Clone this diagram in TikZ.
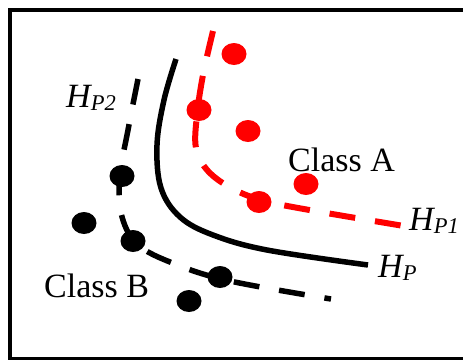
\documentclass[tikz,border=0pt]{standalone}
\usepackage{fontspec}
\setmainfont{Liberation Serif}
\usetikzlibrary{shapes.geometric}
\definecolor{pred}{RGB}{255,0,0}
\begin{document}
\begin{tikzpicture}[x=1pt,y=-1pt,
  dot/.style={ellipse,fill,inner sep=0pt,minimum width=25pt,minimum height=22pt},
  adot/.style={dot,fill=pred},
  bdot/.style={dot,fill=black},
  curve/.style={line width=5.5pt},
  dcurve/.style={curve,dash pattern=on 26pt off 20pt},
  lbl/.style={anchor=base west,inner sep=0pt,font=\fontsize{34}{40}\selectfont}]
\useasboundingbox (0,0) rectangle (463,360);
\draw[line width=3.2pt] (10,10) rectangle (490,358.5);
% H_P (solid)
\draw[curve] plot[smooth,tension=0.6] coordinates {(176,59) (164,100) (157,145) (161,188) (180,217) (213,235) (267,250) (368,265)};
% H_P1 (red dashed)
\draw[dcurve,pred,line width=6pt] plot[smooth,tension=0.6] coordinates {(213,31) (203,75) (197,115) (196,148) (208,171) (233,189) (265,201) (315,211) (410,227)};
% H_P2 (black dashed)
\draw[dcurve] plot[smooth,tension=0.6] coordinates {(138,79) (128,130) (120,175) (121,213) (137,244) (175,264) (230,281) (331,299)};
% class A points
\node[adot] (a1) at (234,54) {};
\node[adot] (a2) at (199,110) {};
\node[adot] (a3) at (248,131) {};
\node[adot] (a4) at (306,184) {};
\node[adot] (a5) at (259,202) {};
% class B points
\node[bdot] (b1) at (122,176) {};
\node[bdot] (b2) at (84,223) {};
\node[bdot] (b3) at (133,241) {};
\node[bdot] (b4) at (220,277) {};
\node[bdot] (b5) at (189,301) {};
% labels
\node[lbl] (ca) at (288,171) {Class A};
\node[lbl] (cb) at (44,297) {Class B};
\node[lbl] (hp2) at (66,107) {\itshape H\raisebox{-3.5pt}{\fontsize{22.5}{22.5}\selectfont P2}};
\node[lbl] (hp1) at (409,230) {\itshape H\raisebox{-3.5pt}{\fontsize{22.5}{22.5}\selectfont P1}};
\node[lbl] (hp) at (378,277) {\itshape H\raisebox{-3.5pt}{\fontsize{22.5}{22.5}\selectfont P}};
\end{tikzpicture}
\end{document}
